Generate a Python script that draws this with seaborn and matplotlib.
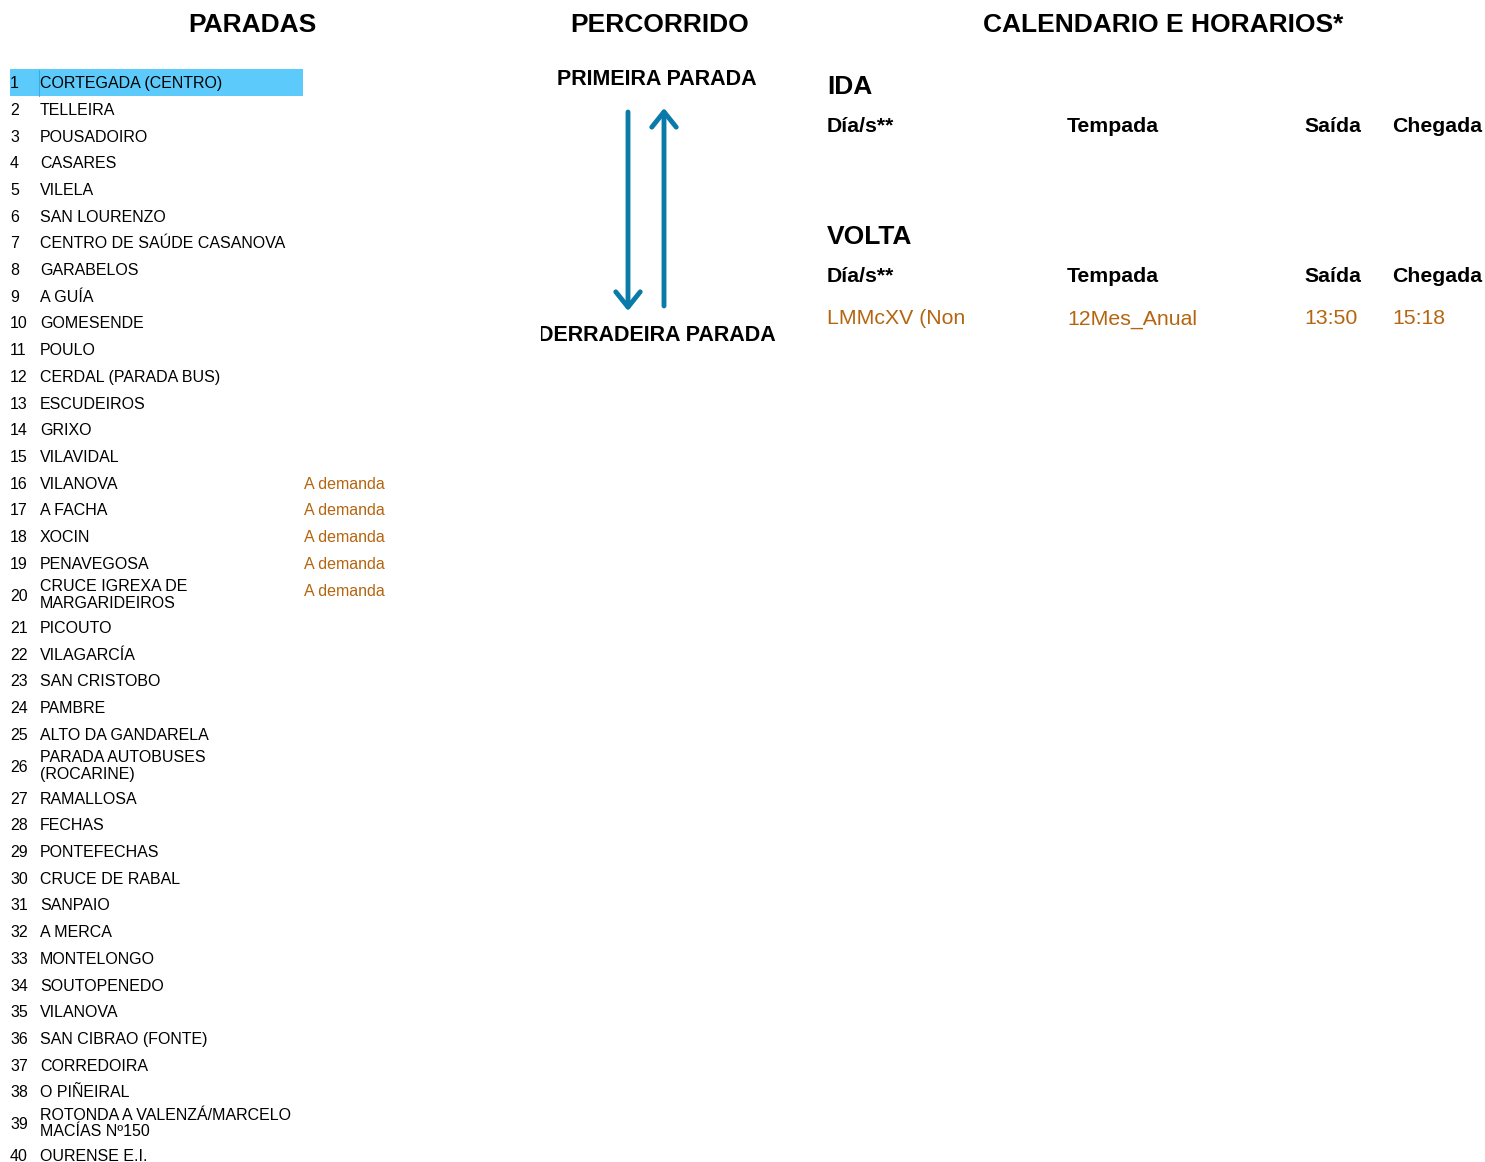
import matplotlib
matplotlib.use("Agg")
import matplotlib.pyplot as plt
from matplotlib.patches import Rectangle
import seaborn as sns

# ---- data ----
stop_numbers = list(range(1, 41))
stop_names = [
    "CORTEGADA (CENTRO)", "TELLEIRA", "POUSADOIRO", "CASARES", "VILELA",
    "SAN LOURENZO", "CENTRO DE SAÚDE CASANOVA", "GARABELOS", "A GUÍA",
    "GOMESENDE", "POULO", "CERDAL (PARADA BUS)", "ESCUDEIROS", "GRIXO",
    "VILAVIDAL", "VILANOVA", "A FACHA", "XOCIN", "PENAVEGOSA",
    "CRUCE IGREXA DE\nMARGARIDEIROS", "PICOUTO", "VILAGARCÍA", "SAN CRISTOBO",
    "PAMBRE", "ALTO DA GANDARELA", "PARADA AUTOBUSES\n(ROCARINE)", "RAMALLOSA",
    "FECHAS", "PONTEFECHAS", "CRUCE DE RABAL", "SANPAIO", "A MERCA",
    "MONTELONGO", "SOUTOPENEDO", "VILANOVA", "SAN CIBRAO (FONTE)",
    "CORREDOIRA", "O PIÑEIRAL", "ROTONDA A VALENZÁ/MARCELO\nMACÍAS Nº150",
    "OURENSE E.I.",
]
on_demand_stops = [16, 17, 18, 19, 20]
on_demand_label = "A demanda"
highlighted_stop = 1

schedule_columns = ["Día/s**", "Tempada", "Saída", "Chegada"]
ida_rows = []
volta_rows = [["LMMcXV (Non", "12Mes_Anual", "13:50", "15:18"]]

# ---- style ----
sns.set_theme(style="white")
plt.rcParams["font.family"] = ["Liberation Sans", "DejaVu Sans"]
plt.rcParams["text.color"] = "black"

ORANGE = "#b5650f"
BLUE = "#0a7ba8"
HILITE = "#5ccbfb"

fig = plt.figure(figsize=(14.85, 11.62), dpi=100)
ax = fig.add_axes([0, 0, 1, 1])
ax.set_xlim(0, 1485)
ax.set_ylim(1162, 0)
ax.axis("off")

# section titles
for label, xc in [("PARADAS", 252), ("PERCORRIDO", 660), ("CALENDARIO E HORARIOS*", 1163)]:
    ax.text(xc, 32, label, ha="center", va="baseline", fontsize=19, fontweight="bold")

# row layout: single rows 26.7 px, two-line rows 37.3 px
single_h, double_h = 26.7, 37.3
heights = [double_h if "\n" in n else single_h for n in stop_names]
centers = []
y = 82.5 - single_h / 2
for h in heights:
    centers.append(y + h / 2)
    y += h

# highlighted first stop
hi = stop_numbers.index(highlighted_stop)
ax.barh(centers[hi], width=293, left=10, height=26.5, color=HILITE, edgecolor="none", zorder=0)
ax.plot([39, 39], [centers[hi] - 13, centers[hi] + 13], color="#35ace4", lw=0.8, zorder=1)

cap = 5.7  # half cap height of 11.5pt text, in px
for num, name, yc in zip(stop_numbers, stop_names, centers):
    ax.text(10, yc + cap, str(num), ha="left", va="baseline", fontsize=11.5)
    if "\n" in name:
        ax.text(40, yc, name, ha="left", va="center", fontsize=11.5, linespacing=1.13)
    else:
        ax.text(40, yc + cap, name, ha="left", va="baseline", fontsize=11.5)
    if num in on_demand_stops:
        yd = yc - 5 if "\n" in name else yc
        ax.text(304, yd + cap, on_demand_label, ha="left", va="baseline", fontsize=11.5, color=ORANGE)

# route diagram
ax.text(657, 85, "PRIMEIRA PARADA", ha="center", va="baseline", fontsize=15.5, fontweight="bold")
last = ax.text(657, 341, "DERRADEIRA PARADA", ha="center", va="baseline", fontsize=15.5,
               fontweight="bold", clip_on=True)
last.set_clip_path(Rectangle((541, 0), 400, 1162, transform=ax.transData))

arrow_style = "->,head_length=0.5,head_width=0.4"
ax.annotate("", xy=(628, 311), xytext=(628, 112),
            arrowprops=dict(arrowstyle=arrow_style, color=BLUE, lw=3.5, mutation_scale=22,
                            shrinkA=0, shrinkB=0))
ax.annotate("", xy=(664, 108), xytext=(664, 306),
            arrowprops=dict(arrowstyle=arrow_style, color=BLUE, lw=3.5, mutation_scale=22,
                            shrinkA=0, shrinkB=0))

# timetable
col_x = [827, 1067, 1304, 1392]


def draw_block(title, y_title, rows):
    ax.text(827, y_title + 9.5, title, ha="left", va="baseline", fontsize=19, fontweight="bold")
    for cx, head in zip(col_x, schedule_columns):
        ax.text(cx, y_title + 47.5, head, ha="left", va="baseline", fontsize=15.3, fontweight="bold")
    for i, row in enumerate(rows):
        for cx, val in zip(col_x, row):
            ax.text(cx, y_title + 90.5 + i * 30, val, ha="left", va="baseline", fontsize=15.3, color=ORANGE)


draw_block("IDA", 85, ida_rows)
draw_block("VOLTA", 234, volta_rows)

fig.savefig("out.png", dpi=100, facecolor="white")
